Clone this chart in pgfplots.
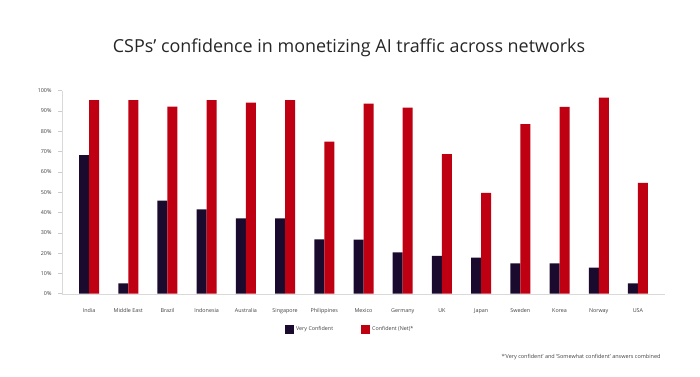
\documentclass[border=0pt]{standalone}
\usepackage{fontspec}
\setmainfont{Open Sans}
\usepackage{pgfplots}
\usepackage{pgfplotstable}
\pgfplotsset{compat=1.18}
\definecolor{vdark}{HTML}{1A0B2E}
\definecolor{vred}{HTML}{BF0012}
\pgfplotstableread{
idx very net
0 68.3 95.4
1 5.1 95.4
2 45.8 92.1
3 41.6 95.4
4 37.1 94.1
5 37.1 95.4
6 26.8 74.9
7 26.7 93.6
8 20.4 91.7
9 18.6 68.8
10 17.8 49.7
11 14.9 83.5
12 15.0 92.0
13 12.9 96.6
14 5.1 54.6
}\datatable
\begin{document}
\begin{tikzpicture}[x=1bp,y=1bp]
\path[use as bounding box] (0,0) rectangle (700,376);
\node[font=\fontsize{18}{21}\selectfont, text=black!85] at (349,328) {CSPs’ confidence in monetizing AI traffic across networks};
\begin{axis}[
  at={(62bp,82.3bp)}, anchor=south west,
  scale only axis, width=603bp, height=203bp,
  xmin=-0.69, xmax=14.69, ymin=0, ymax=100,
  axis x line*=bottom, axis y line*=left,
  axis line style={draw=black!15, -},
  ybar=0pt, bar width=10bp,
  xtick={0,...,14},
  xticklabels={India,Middle East,Brazil,Indonesia,Australia,Singapore,Philippines,Mexico,Germany,UK,Japan,Sweden,Korea,Norway,USA},
  ytick={0,10,...,100},
  yticklabel={\pgfmathprintnumber{\tick}\%},
  /pgf/number format/assume math mode=true,
  tick align=outside, major tick length=4bp,
  xtick style={draw=none},
  ytick style={draw=black!20, line width=0.5bp},
  xticklabel style={font=\fontsize{5.4}{6}\selectfont, text=black!75, yshift=-7bp},
  yticklabel style={font=\fontsize{5.4}{6}\selectfont, text=black!75, xshift=-3bp},
  legend style={at={(0.478,-0.176)}, anchor=center, draw=none, fill=none,
    legend columns=2, font=\fontsize{5.4}{6}\selectfont, text=black!75,
    /tikz/every even column/.append style={column sep=26bp}},
  legend cell align=left,
]
\addplot[fill=vdark, draw=none, legend image code/.code={\fill[vdark] (0bp,-4.5bp) rectangle (9bp,4.5bp);}] table[x=idx, y=very] {\datatable};
\addlegendentry{Very Confident}
\addplot[fill=vred, draw=none, legend image code/.code={\fill[vred] (0bp,-4.5bp) rectangle (9bp,4.5bp);}] table[x=idx, y=net] {\datatable};
\addlegendentry{Confident (Net)*}
\end{axis}
\node[anchor=east, font=\fontsize{5.5}{6.5}\selectfont, text=black!75] at (664,19) {*‘Very confident’ and ‘Somewhat confident’ answers combined};
\end{tikzpicture}
\end{document}
